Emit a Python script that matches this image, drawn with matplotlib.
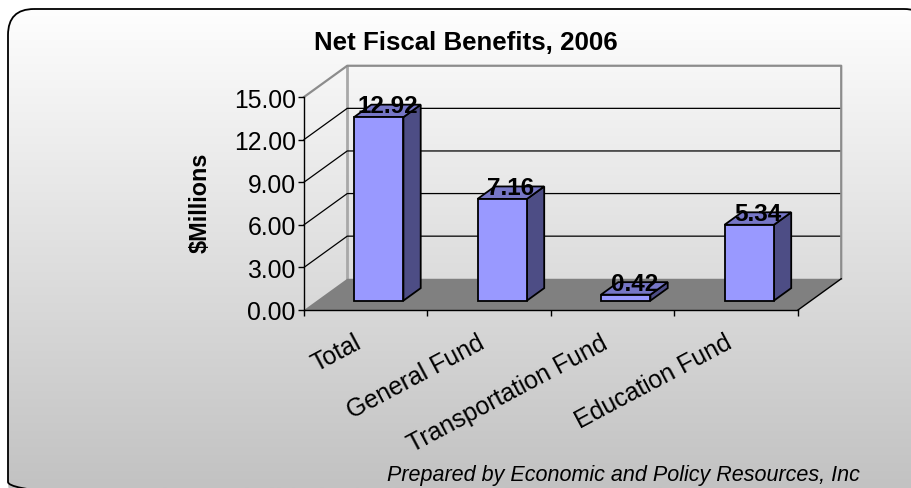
import numpy as np
import matplotlib

matplotlib.use("Agg")
import matplotlib.pyplot as plt
from matplotlib.patches import Polygon, Rectangle, FancyBboxPatch
from matplotlib.colors import LinearSegmentedColormap

# data
categories = ["Total", "General Fund", "Transportation Fund", "Education Fund"]
values = [12.92, 7.16, 0.42, 5.34]
y_ticks = [0, 3, 6, 9, 12, 15]

W, H = 912, 489
plt.rcParams["font.family"] = ["Liberation Sans", "DejaVu Sans"]

fig = plt.figure(figsize=(W / 100, H / 100), dpi=100)

# rounded panel with a white-to-grey gradient
bg = fig.add_axes([0, 0, 1, 1])
bg.axis("off")
cmap = LinearSegmentedColormap.from_list("panel", ["#ffffff", "#c2c2c2"])
im = bg.imshow(np.linspace(0, 1, 256).reshape(-1, 1), extent=[0, W, H, 0],
               cmap=cmap, aspect="auto", zorder=0)
frame = FancyBboxPatch((8, 10), W + 10, H + 10,
                       boxstyle="round,pad=0,rounding_size=26",
                       facecolor="none", edgecolor="black", lw=1.3, zorder=1)
bg.add_patch(frame)
im.set_clip_path(frame)
bg.set_xlim(0, W)
bg.set_ylim(H, 0)

# front plane of the pseudo-3D plot
ax = fig.add_axes([304 / W, 1 - 311 / H, 494 / W, 213 / H])
n = len(categories)
ax.set_xlim(0, n)
ax.set_ylim(y_ticks[0], y_ticks[-1])
ax.patch.set_visible(False)

DX, DY = 0.35, 2.2  # depth offset of the back wall (data units)
top = y_ticks[-1]

# floor
ax.add_patch(Polygon([(0, 0), (n, 0), (n + DX, DY), (DX, DY)], closed=True,
                     fc="#808080", ec="none", clip_on=False, zorder=1))
ax.plot([n, n + DX], [0, DY], color="black", lw=1, clip_on=False, zorder=1.2)

# gridlines on side and back walls
for t in y_ticks[1:-1]:
    ax.plot([0, DX, n + DX], [t, t + DY, t + DY], color="black", lw=0.9,
            clip_on=False, zorder=1)
# wall borders
ax.plot([0, DX, n + DX, n + DX], [top, top + DY, top + DY, DY],
        color="#8c8c8c", lw=1.6, clip_on=False, zorder=1)
ax.plot([DX, DX], [DY, top + DY], color="#a8a8a8", lw=2, clip_on=False, zorder=0.9)

# bars
w, f0, f1 = 0.4, 0.3, 0.7
ddx, ddy = (f1 - f0) * DX, (f1 - f0) * DY
for i, v in enumerate(values):
    x0 = i + (1 - w) / 2 + f0 * DX
    y0 = f0 * DY
    ax.add_patch(Polygon([(x0 + w, y0), (x0 + w + ddx, y0 + ddy),
                          (x0 + w + ddx, y0 + ddy + v), (x0 + w, y0 + v)],
                         closed=True, fc="#4d4d85", ec="black", lw=1.3,
                         clip_on=False, zorder=3))
    ax.add_patch(Polygon([(x0, y0 + v), (x0 + ddx, y0 + v + ddy),
                          (x0 + w + ddx, y0 + v + ddy), (x0 + w, y0 + v)],
                         closed=True, fc="#7676c6", ec="black", lw=1.3,
                         clip_on=False, zorder=3))
    ax.add_patch(Rectangle((x0, y0), w, v, fc="#9999ff", ec="black", lw=1.3,
                           clip_on=False, zorder=3.1))
    ax.annotate(f"{v:.2f}", xy=(x0 + (w + ddx) / 2, y0 + v + ddy / 2),
                xytext=(0, 3.6), textcoords="offset points", ha="center",
                va="center", fontsize=17.5, fontweight="bold", zorder=5,
                annotation_clip=False)

# axes styling
ax.spines[["top", "right"]].set_visible(False)
for s in ("left", "bottom"):
    ax.spines[s].set_color("black")
    ax.spines[s].set_linewidth(1)
    ax.spines[s].set_zorder(2)
ax.set_yticks(y_ticks)
ax.set_yticklabels([f"{t:.2f}" for t in y_ticks])
ax.set_xticks(range(n + 1))
ax.set_xticklabels([])
ax.tick_params(axis="y", direction="out", length=4, width=1, pad=2, labelsize=17.8)
ax.tick_params(axis="x", direction="out", length=4, width=1)

for i, c in enumerate(categories):
    ax.annotate(c, xy=(i + 0.5, 0), xytext=(-8.7, -14.3),
                textcoords="offset points", ha="right", va="top", rotation=28,
                rotation_mode="anchor", fontsize=17.9, annotation_clip=False)

fig.text(466 / W, 1 - 50 / H, "Net Fiscal Benefits, 2006", ha="center",
         va="baseline", fontsize=18.6, fontweight="bold")
fig.text(200 / W, 1 - 203 / H, "$Millions", rotation=90, ha="center",
         va="center", fontsize=16.8, fontweight="bold")
fig.text(387 / W, 1 - 481 / H, "Prepared by Economic and Policy Resources, Inc",
         ha="left", va="baseline", fontsize=15.5, fontstyle="italic")

fig.savefig("out.png", dpi=100)
plt.close(fig)
